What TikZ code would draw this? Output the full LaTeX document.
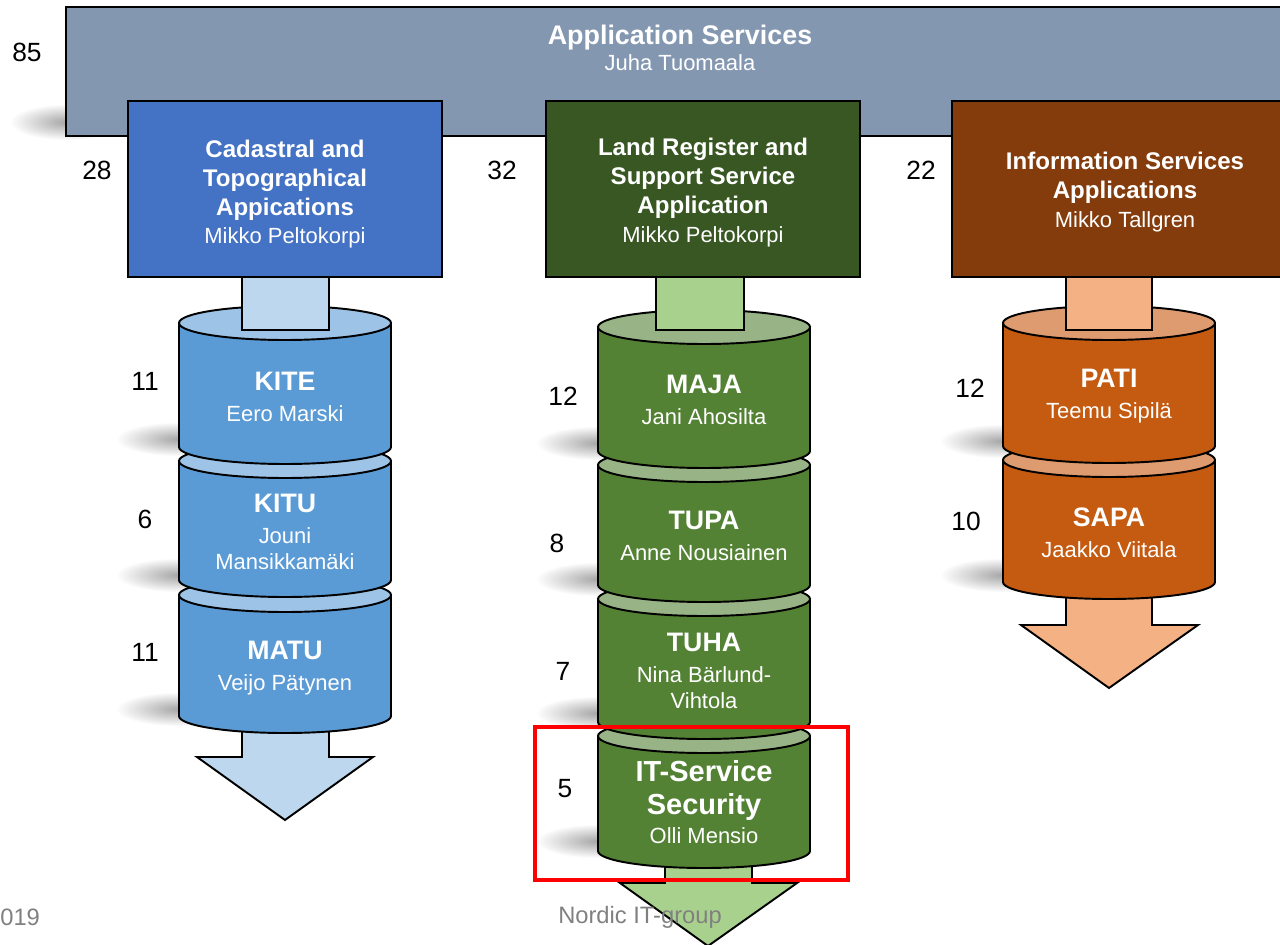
\documentclass[tikz,border=0pt]{standalone}
\usepackage{fontspec}
\setmainfont{Liberation Sans}
\usetikzlibrary{fadings}

\definecolor{svcgray}{HTML}{8497B0}
\definecolor{boxblue}{HTML}{4472C4}
\definecolor{boxgreen}{HTML}{385723}
\definecolor{boxbrown}{HTML}{843C0C}
\definecolor{drumblue}{HTML}{5B9BD5}
\definecolor{lidblue}{HTML}{9DC3E6}
\definecolor{stubblue}{HTML}{BDD7EE}
\definecolor{drumgreen}{HTML}{548235}
\definecolor{lidgreen}{HTML}{98B486}
\definecolor{stubgreen}{HTML}{A9D18E}
\definecolor{drumbrown}{HTML}{C55A11}
\definecolor{lidbrown}{HTML}{DE9B6F}
\definecolor{stubbrown}{HTML}{F4B183}
\definecolor{footgray}{HTML}{808080}

\tikzfading[name=softblob, inner color=transparent!0, outer color=transparent!100]

% drum: centre x, top y, bottom y, body colour, lid colour
\newcommand{\drum}[5]{%
  \filldraw[unit, fill=#4] (#1-106,#2) -- (#1-106,#3)
    arc[start angle=180, end angle=0, x radius=106, y radius=17] -- (#1+106,#2) -- cycle;
  \filldraw[unit, fill=#5] (#1,#2) ellipse[x radius=106, y radius=17];
}
% soft shadow blob
\newcommand{\softshade}[4]{%
  \fill[black!35, path fading=softblob] (#1,#2) rectangle (#3,#4);
}

\begin{document}
\begin{tikzpicture}[x=0.02cm, y=-0.02cm,
  unit/.style={draw=black, line width=1.1pt},
  boxlbl/.style={text=white, align=center, font=\fontsize{13.7}{16.5}\selectfont},
  drumlbl/.style={text=white, align=center, font=\fontsize{12.5}{14.5}\selectfont},
  count/.style={font=\fontsize{15}{17}\selectfont},
  foot/.style={text=footgray, font=\fontsize{13.5}{15}\selectfont}]
  \useasboundingbox (0,0) rectangle (1280,945);
  \clip (0,0) rectangle (1280,945);

  % Top unit
  \softshade{10}{104}{122}{140}
  \filldraw[unit, fill=svcgray] (66,7) rectangle (1300,136);

  % Cadastral column
  \softshade{116}{422}{240}{456}
  \softshade{116}{558}{240}{592}
  \softshade{116}{692}{240}{726}
  \filldraw[unit, fill=stubblue] (242,700) -- (242,757) -- (197,757) -- (285,820)
    -- (373,757) -- (329,757) -- (329,700) -- cycle;
  \drum{285}{595}{716}{drumblue}{lidblue}
  \drum{285}{461}{580}{drumblue}{lidblue}
  \drum{285}{323}{447}{drumblue}{lidblue}
  \filldraw[unit, fill=stubblue] (242,277) rectangle (329,330);

  % Land register column
  \softshade{536}{426}{660}{460}
  \softshade{536}{562}{660}{596}
  \softshade{536}{696}{660}{730}
  \softshade{536}{824}{660}{858}
  \filldraw[unit, fill=stubgreen] (665,830) -- (665,883) -- (620,883) -- (708,946)
    -- (797,883) -- (752,883) -- (752,830) -- cycle;
  \drum{704}{736}{851}{drumgreen}{lidgreen}
  \drum{704}{599}{722}{drumgreen}{lidgreen}
  \drum{704}{465}{585}{drumgreen}{lidgreen}
  \drum{704}{327}{451}{drumgreen}{lidgreen}
  \filldraw[unit, fill=stubgreen] (656,277) rectangle (744,330);

  % Information services column
  \softshade{940}{424}{1064}{458}
  \softshade{940}{558}{1064}{592}
  \filldraw[unit, fill=stubbrown] (1066,570) -- (1066,625) -- (1021,625) -- (1109,688)
    -- (1198,625) -- (1152,625) -- (1152,570) -- cycle;
  \drum{1109}{460}{582}{drumbrown}{lidbrown}
  \drum{1109}{323}{446}{drumbrown}{lidbrown}
  \filldraw[unit, fill=stubbrown] (1066,277) rectangle (1152,330);

  % Department boxes
  \filldraw[unit, fill=boxblue] (128,101) rectangle (442,277);
  \filldraw[unit, fill=boxgreen] (546,101) rectangle (860,277);
  \filldraw[unit, fill=boxbrown] (952,101) rectangle (1300,277);

  % Labels
  \node[boxlbl] (appsvc) at (680,48) {\textbf{\fontsize{15.3}{16.5}\selectfont Application Services}\\[-1.7pt] {\fontsize{12.5}{16.5}\selectfont Juha Tuomaala}};
  \node[boxlbl] (cadastral) at (285,194) {\textbf{Cadastral and}\\ \textbf{Topographical}\\ \textbf{Appications}\\[-1pt] {\fontsize{12.5}{16.5}\selectfont Mikko Peltokorpi}};
  \node[boxlbl] (landreg) at (703,193) {\textbf{Land Register and}\\ \textbf{Support Service}\\ \textbf{Application}\\ {\fontsize{12.5}{16.5}\selectfont Mikko Peltokorpi}};
  \node[boxlbl] (infosvc) at (1125,192) {\textbf{Information Services}\\ \textbf{Applications}\\ {\fontsize{12.5}{16.5}\selectfont Mikko Tallgren}};

  \node[drumlbl] (kite) at (285,397) {\textbf{\fontsize{15.2}{14.5}\selectfont KITE}\\[3pt] Eero Marski};
  \node[drumlbl] (kitu) at (285,532) {\textbf{\fontsize{15.2}{14.5}\selectfont KITU}\\[3pt] Jouni\\ Mansikkamäki};
  \node[drumlbl] (matu) at (285,668) {\textbf{\fontsize{15.2}{14.5}\selectfont MATU}\\[3pt] Veijo Pätynen};
  \node[drumlbl] (maja) at (704,400) {\textbf{\fontsize{15.2}{14.5}\selectfont MAJA}\\[3pt] Jani Ahosilta};
  \node[drumlbl] (tupa) at (704,536) {\textbf{\fontsize{15.2}{14.5}\selectfont TUPA}\\[3pt] Anne Nousiainen};
  \node[drumlbl] (tuha) at (704,671) {\textbf{\fontsize{15.2}{14.5}\selectfont TUHA}\\[3pt] Nina Bärlund-\\ Vihtola};
  \node[drumlbl] (itsec) at (704,802) {\textbf{\fontsize{16.5}{18}\selectfont IT-Service}\\[4.5pt] \textbf{\fontsize{16.5}{18}\selectfont Security}\\[2pt] Olli Mensio};
  \node[drumlbl] (pati) at (1109,396) {\textbf{\fontsize{15.2}{14.5}\selectfont PATI}\\[3pt] Teemu Sipilä};
  \node[drumlbl] (sapa) at (1109,533) {\textbf{\fontsize{15.2}{14.5}\selectfont SAPA}\\[3pt] Jaakko Viitala};

  % Head counts
  \node[count] (c85) at (27,52) {85};
  \node[count] (c28) at (97,170) {28};
  \node[count] (c32) at (502,170) {32};
  \node[count] (c22) at (921,170) {22};
  \node[count] (ckite) at (145,381) {11};
  \node[count] (ckitu) at (145,519) {6};
  \node[count] (cmatu) at (145,652) {11};
  \node[count] (cmaja) at (563,396) {12};
  \node[count] (ctupa) at (557,543) {8};
  \node[count] (ctuha) at (563,671) {7};
  \node[count] (citsec) at (565,789) {5};
  \node[count] (cpati) at (970,388) {12};
  \node[count] (csapa) at (966,521) {10};

  % Highlight
  \draw[red, line width=2.8pt] (535,727) rectangle (848,880);

  % Footer
  \node[foot, anchor=west, inner sep=0pt] (year) at (0,917) {019};
  \node[foot] (group) at (640,917) {Nordic IT-group};
\end{tikzpicture}
\end{document}
